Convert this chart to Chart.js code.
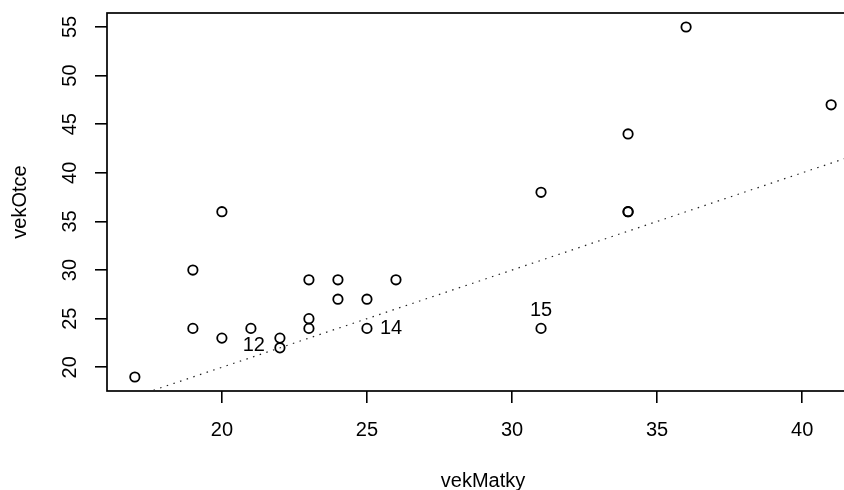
<!DOCTYPE html>
<html>
<head>
<meta charset="utf-8">
<title>vekMatky vs vekOtce</title>
<script src="https://cdn.jsdelivr.net/npm/chart.js@4.4.1/dist/chart.umd.min.js"></script>
<style>
    html, body { margin: 0; padding: 0; background: #fff; overflow: hidden; }
    canvas { display: block; }
</style>
</head>
<body>
<!-- the R plot region runs 15px past the right edge of the 844px picture -->
<canvas id="chart" width="859" height="490"></canvas>
<script>
// --- data ---
const vekMatky = [17, 19, 19, 20, 20, 21, 22, 22, 23, 23, 23, 24, 24, 25, 25, 26, 31, 31, 34, 34, 34, 36, 41];
const vekOtce  = [19, 30, 24, 36, 23, 24, 23, 22, 29, 25, 24, 29, 27, 27, 24, 29, 38, 24, 44, 36, 36, 55, 47];

// identify() labels
const idLabels = ["12", "14", "15"];
const idX = [22, 25, 31];
const idY = [22, 24, 24];
const idPos = [2, 4, 3];   // R pos: 2 = left, 3 = above, 4 = right

// abline(0, 1, lty = 3)
const ablineA = 0;
const ablineB = 1;

const xTicks = [20, 25, 30, 35, 40];
const yTicks = [20, 25, 30, 35, 40, 45, 50, 55];
const xRange = [16.04, 41.96];
const yRange = [17.56, 56.44];

const FONT = "'Liberation Sans', Arial, Helvetica, sans-serif";

const points = vekMatky.map((x, i) => ({ x, y: vekOtce[i] }));
const ablinePts = xRange.map(x => ({ x, y: ablineA + ablineB * x }));

// R style box + identify labels
const rFrame = {
    id: "rFrame",
    beforeDatasetsDraw(chart) {
        const { ctx, chartArea: a } = chart;
        ctx.save();
        ctx.strokeStyle = "#000";
        ctx.lineWidth = 1.7;
        ctx.strokeRect(a.left, a.top, a.right - a.left, a.bottom - a.top);
        ctx.restore();
    },
    afterDatasetsDraw(chart) {
        const { ctx } = chart;
        const xs = chart.scales.x, ys = chart.scales.y;
        ctx.save();
        ctx.font = `20px ${FONT}`;
        ctx.fillStyle = "#000";
        ctx.textBaseline = "middle";
        idLabels.forEach((t, i) => {
            const px = xs.getPixelForValue(idX[i]);
            const py = ys.getPixelForValue(idY[i]);
            if (idPos[i] === 2) { ctx.textAlign = "right"; ctx.fillText(t, px - 15, py - 2.5); }
            else if (idPos[i] === 4) { ctx.textAlign = "left"; ctx.fillText(t, px + 13, py); }
            else { ctx.textAlign = "center"; ctx.fillText(t, px, py - 18); }
        });
        ctx.restore();
    },
};

function noPad(s) {
    s.paddingLeft = 0;
    s.paddingTop = 0;
    s.paddingBottom = 0;
    s.paddingRight = 0;
}

const tickGrid = { drawOnChartArea: false, drawTicks: true, tickLength: 12, color: "#000", lineWidth: 1.6 };

new Chart(document.getElementById("chart"), {
    type: "scatter",
    data: {
        datasets: [
            {
                label: "abline",
                data: ablinePts,
                showLine: true,
                borderColor: "#222",
                borderWidth: 1.2,
                borderDash: [1.5, 5.5],
                pointRadius: 0,
            },
            {
                label: "vekOtce",
                data: points,
                pointRadius: 4.7,
                borderColor: "#000",
                backgroundColor: "rgba(0,0,0,0)",
                borderWidth: 1.8,
            },
        ],
    },
    options: {
        responsive: false,
        animation: false,
        devicePixelRatio: 1,
        layout: { autoPadding: false, padding: { top: 13, right: 0, left: 0, bottom: 0 } },
        plugins: { legend: { display: false }, tooltip: { enabled: false } },
        scales: {
            x: {
                type: "linear",
                min: xRange[0],
                max: xRange[1],
                afterBuildTicks: s => { s.ticks = xTicks.map(v => ({ value: v })); },
                afterFit: s => { s.height = 99; noPad(s); },
                grid: tickGrid,
                border: { display: false },
                ticks: { color: "#000", font: { family: FONT, size: 20 }, padding: 15, maxRotation: 0, autoSkip: false },
                title: { display: true, text: "vekMatky", color: "#000", font: { family: FONT, size: 20 }, padding: { top: 0, bottom: -3 } },
            },
            y: {
                type: "linear",
                min: yRange[0],
                max: yRange[1],
                afterBuildTicks: s => { s.ticks = yTicks.map(v => ({ value: v })); },
                afterFit: s => { s.width = 107; noPad(s); },
                grid: tickGrid,
                border: { display: false },
                ticks: { color: "#000", font: { family: FONT, size: 20 }, padding: 13, minRotation: 90, maxRotation: 90, crossAlign: "center", autoSkip: false },
                title: { display: true, text: "vekOtce", color: "#000", font: { family: FONT, size: 20 }, padding: { top: 8, bottom: 0 } },
            },
        },
    },
    plugins: [rFrame],
});
</script>
</body>
</html>
